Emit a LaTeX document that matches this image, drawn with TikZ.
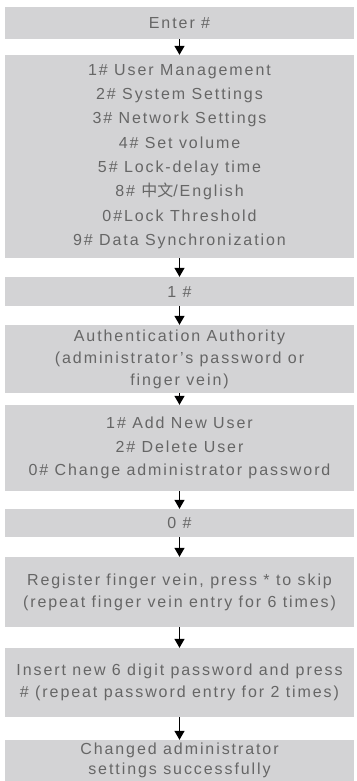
\documentclass[tikz,border=0pt]{standalone}
\usepackage{fontspec}
\setmainfont{Liberation Sans}[LetterSpace=12]
\newfontfamily\cjk{Noto Sans CJK SC}
\usetikzlibrary{arrows.meta}
\definecolor{boxgray}{HTML}{D3D3D5}
\definecolor{textgray}{HTML}{666666}

\begin{document}
\begin{tikzpicture}[x=1pt, y=1pt,
    every node/.style={fill=boxgray, text=textgray, minimum width=349pt, inner sep=0pt,
      align=center, font=\fontsize{16}{22}\selectfont},
    flow/.style={-{Triangle[width=10pt,length=9pt]}, line width=1.4pt}]
    \useasboundingbox (0,0) rectangle (356,-781);

    \node[minimum height=32pt] (enter) at (179.5,-23) {Enter \#};
    \node[minimum height=203pt, font=\fontsize{16}{24.3}\selectfont] (menu) at (179.5,-156.5)
        {1\# User Management\\ 2\# System Settings\\ 3\# Network Settings\\ 4\# Set volume\\
         5\# Lock-delay time\\ 8\# {\cjk 中文}/English\\ 0\#Lock Threshold\\ 9\# Data Synchronization};
    \node[minimum height=29pt] (one) at (179.5,-291.5) {1 \#};
    \node[minimum height=68pt] (auth) at (179.5,-359)
        {Authentication Authority\\ (administrator’s password or\\ finger vein)};
    \node[minimum height=86pt, font=\fontsize{16}{23.5}\selectfont] (user) at (179.5,-448)
        {1\# Add New User\\ 2\# Delete User\\ 0\# Change administrator password};
    \node[minimum height=28pt] (zero) at (179.5,-523) {0 \#};
    \node[minimum height=70pt] (vein) at (179.5,-592)
        {Register finger vein, press * to skip\\ (repeat finger vein entry for 6 times)};
    \node[minimum height=69pt] (pass) at (179.5,-682.5)
        {Insert new 6 digit password and press\\ \# (repeat password entry for 2 times)};
    \node[minimum height=41pt, font=\fontsize{16}{20}\selectfont] (done) at (179.5,-760.5)
        {Changed administrator\\ settings successfully};

    \draw[flow] (enter) -- (menu);
    \draw[flow] (menu) -- (one);
    \draw[flow] (one) -- (auth);
    \draw[flow] (auth) -- (user);
    \draw[flow] (user) -- (zero);
    \draw[flow] (zero) -- (vein);
    \draw[flow] (vein) -- (pass);
    \draw[flow] (pass) -- (done);
\end{tikzpicture}
\end{document}
